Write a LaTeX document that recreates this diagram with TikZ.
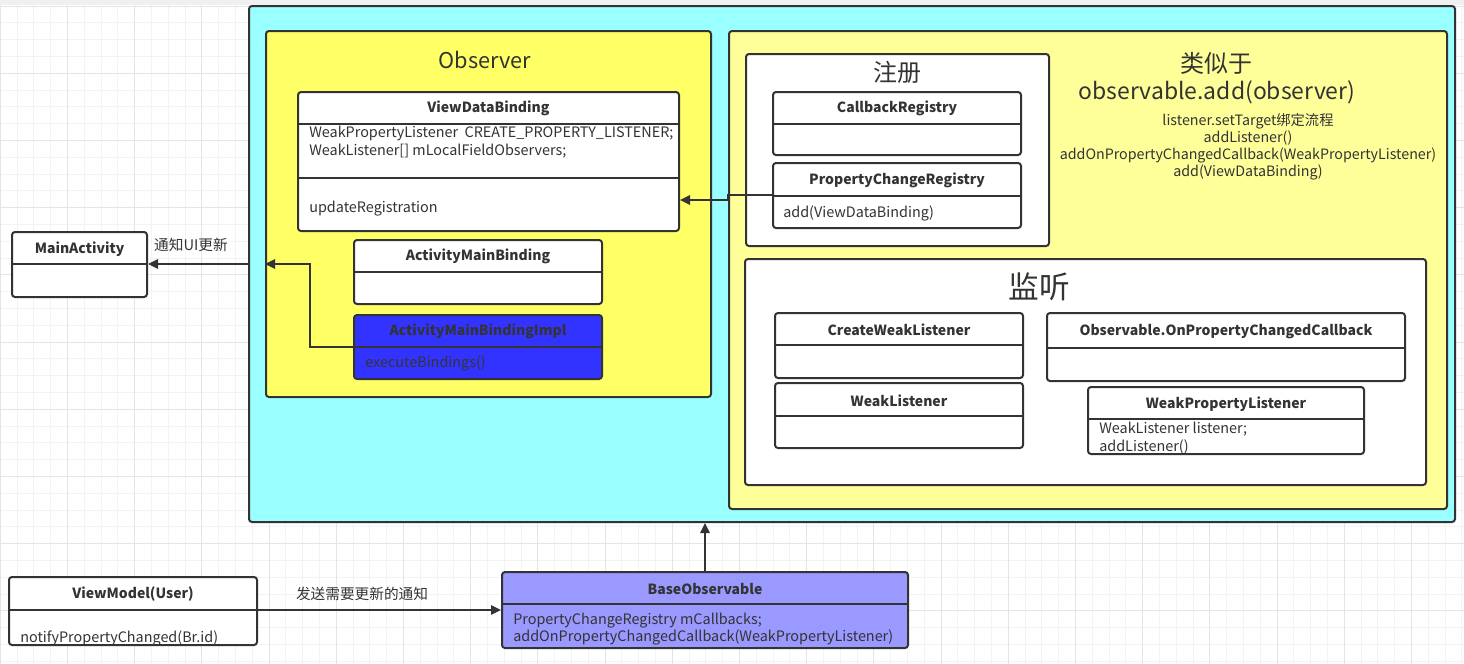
\documentclass[tikz,border=0pt]{standalone}
\usepackage{fontspec}
\setmainfont{Noto Sans CJK SC}
\usetikzlibrary{fit,calc,arrows.meta}
\definecolor{ink}{HTML}{333333}
\definecolor{cyanbg}{HTML}{99FFFF}
\definecolor{yelA}{HTML}{FFFF66}
\definecolor{yelB}{HTML}{FFFF99}
\definecolor{blueA}{HTML}{3333FF}
\definecolor{blueB}{HTML}{9999FF}
\definecolor{gridminor}{HTML}{F3F3F3}
\definecolor{gridmajor}{HTML}{E4E4E4}
\tikzset{
  umlbox/.style={draw=ink, line width=1.5pt, rounded corners=2.25pt, inner sep=0pt},
  umlline/.style={draw=ink, line width=1.5pt},
  umltitle/.style={font=\fontsize{10.5}{12}\selectfont\bfseries, text=ink, inner sep=0pt, yshift=-1pt},
  umltext/.style={font=\fontsize{10.8}{13}\selectfont, text=ink, inner sep=0pt, anchor=west, yshift=-0.8pt},
  conn/.style={draw=ink, line width=1.5pt, -{Triangle[length=7.5pt,width=7pt]}},
  bigtitle/.style={font=\fontsize{18}{20}\selectfont, text=ink, inner sep=0pt},
  lbl/.style={font=\fontsize{11}{13}\selectfont, text=ink, inner sep=0pt},
}
\newcommand\ucls[8]{%
  \node[umlbox, fill=#7, fit={(#2,#3) (#4,#5)}] (#1) {};
  \coordinate (#1-d) at (0,#6);
  \draw[umlline] (#1.west |- #1-d) -- (#1.east |- #1-d);
  \node[umltitle] (#1-t) at ($(#1.north)!0.5!(#1.north |- #1-d)$) {#8};
}
\begin{document}
\begin{tikzpicture}[x=0.75pt, y=-0.75pt]
\useasboundingbox (0,0) rectangle (1464,664);
\fill[white] (0,0) rectangle (1464,664);
% grid
\foreach \k in {0,...,87} \draw[gridminor, line width=0.75pt] ({0.3+16.8*\k},0) -- ({0.3+16.8*\k},664);
\foreach \k in {0,...,39} \draw[gridminor, line width=0.75pt] (0,{6+16.8*\k}) -- (1464,{6+16.8*\k});
\foreach \k in {0,4,...,84} \draw[gridmajor, line width=0.75pt] ({0.3+16.8*\k},0) -- ({0.3+16.8*\k},664);
\foreach \k in {0,4,...,36} \draw[gridmajor, line width=0.75pt] (0,{6+16.8*\k}) -- (1464,{6+16.8*\k});
\fill[black!6] (0,0) rectangle (1464,5);

% containers
\node[umlbox, fill=cyanbg, fit={(249,6) (1455,522)}] (cyan) {};
\node[umlbox, fill=yelA, fit={(266,31) (711,397)}] (obs) {};
\node[bigtitle, font=\fontsize{16.3}{18}\selectfont] (obs-t) at (485,60) {Observer};
\node[umlbox, fill=yelB, fit={(729,31) (1447,509)}] (right) {};
\node[bigtitle] (sim-a) at (1216,63) {类似于};
\node[bigtitle, font=\fontsize{17.2}{19}\selectfont] (sim-b) at (1217,92) {observable.add(observer)};
\node[lbl, align=center, font=\fontsize{10.7}{12.75}\selectfont] (flow) at (1248,147) {listener.setTarget绑定流程\\addListener()\\addOnPropertyChangedCallback(WeakPropertyListener)\\add(ViewDataBinding)};
\node[umlbox, fill=white, fit={(746,54) (1049,246)}] (reg) {};
\node[bigtitle] (reg-t) at (897,72) {注册};
\node[umlbox, fill=white, fit={(745,259) (1426,485)}] (lis) {};
\node[bigtitle, font=\fontsize{23}{25}\selectfont] (lis-t) at (1039,287) {监听};

% classes
\ucls{vdb}{298}{92}{679}{231}{124}{white}{ViewDataBinding}
\coordinate (vdb-d2) at (0,178);
\draw[umlline] (vdb.west |- vdb-d2) -- (vdb.east |- vdb-d2);
\node[umltext] (vdb-a1) at (309,132) {WeakPropertyListener\ \ CREATE\_PROPERTY\_LISTENER;};
\node[umltext] (vdb-a2) at (309,150) {WeakListener[] mLocalFieldObservers;};
\node[umltext] (vdb-m1) at (309,207) {updateRegistration};

\ucls{amb}{354}{240}{602}{304}{272}{white}{ActivityMainBinding}
\ucls{ambi}{354}{315}{602}{379}{347}{blueA}{ActivityMainBindingImpl}
\node[umltext] (ambi-m1) at (365,362) {executeBindings()};

\ucls{main}{12}{232}{147}{297}{264}{white}{MainActivity}

\ucls{cbr}{773}{92}{1021}{155}{124}{white}{CallbackRegistry}
\ucls{pcr}{773}{163}{1021}{228}{196}{white}{PropertyChangeRegistry}
\node[umltext] (pcr-m1) at (783,212) {add(ViewDataBinding)};

\ucls{cwl}{775}{313}{1023}{378}{345}{white}{CreateWeakListener}
\ucls{wl}{775}{383}{1023}{448}{416}{white}{WeakListener}
\ucls{opc}{1047}{313}{1405}{381}{348}{white}{Observable.OnPropertyChangedCallback}
\ucls{wpl}{1088}{387}{1364}{454}{419}{white}{WeakPropertyListener}
\node[umltext] (wpl-a1) at (1099,428) {WeakListener listener;};
\node[umltext] (wpl-a2) at (1099,446) {addListener()};

\ucls{vm}{9}{577}{257}{645}{610}{white}{ViewModel(User)}
\node[umltext] (vm-m1) at (20,637) {notifyPropertyChanged(Br.id)};
\ucls{bo}{502}{572}{908}{648}{604}{blueB}{BaseObservable}
\node[umltext] (bo-a1) at (513,619) {PropertyChangeRegistry mCallbacks;};
\node[umltext] (bo-a2) at (513,636) {addOnPropertyChangedCallback(WeakPropertyListener)};

% connectors
\coordinate (j1) at (310,264);
\draw[conn] (ambi.west |- ambi-d) -| (j1) -- (obs.west |- j1);
\draw[conn] (cyan.west |- j1) -- (main.east |- j1);
\node[lbl] (l1) at (191,245) {通知UI更新};
\coordinate (j2) at (728,200);
\coordinate (j3) at (0,195);
\draw[conn] (pcr.west |- j3) -| (j2) -- (vdb.east |- j2);
\coordinate (j4) at (0,610);
\draw[conn] (vm.east |- j4) -- (bo.west |- j4);
\node[lbl] (l2) at (362,594) {发送需要更新的通知};
\draw[conn] (bo.north) -- (bo.north |- cyan.south);
\end{tikzpicture}
\end{document}
